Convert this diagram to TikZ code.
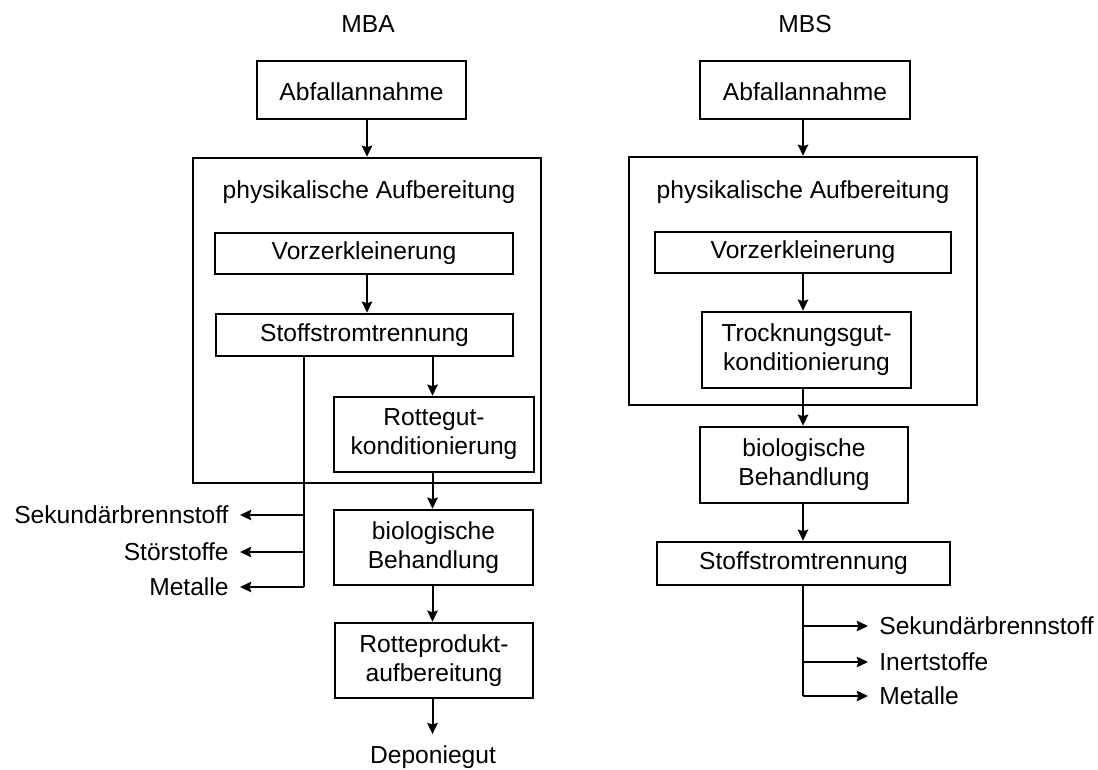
\documentclass[tikz,border=0pt]{standalone}
\usepackage{fontspec}
\setmainfont{Liberation Sans}
\usetikzlibrary{arrows.meta}
\begin{document}
\begin{tikzpicture}[x=0.5pt,y=-0.5pt,
  font=\fontsize{12.3pt}{14.5pt}\selectfont,
  pbox/.style n args={2}{draw, line width=1.2pt, inner sep=0pt, align=center,
    minimum width=#1*0.5pt, minimum height=#2*0.5pt},
  lowtext/.style={text height=1.05em, text depth=0pt},
  txt/.style={inner sep=0pt},
  outl/.style={inner xsep=5.5pt, inner ysep=0pt},
  flow/.style={line width=1pt},
  arr/.style={flow, -{Stealth[length=5.6pt, width=5.2pt, inset=0.8pt]}}]
\useasboundingbox[fill=white] (0,0) rectangle (1098,770);

% ---------- MBA ----------
\node[txt] (tA) at (368,24) {MBA};
\node[pbox={209}{58}, lowtext] (inA) at (361.5,90) {Abfallannahme};
\node[pbox={348}{325}] (bigA) at (367,320.5) {};
\node[txt] (physA) at (369,192) {physikalische Aufbereitung};
\node[pbox={298}{41}] (vzA) at (364,253.5) {Vorzerkleinerung};
\node[pbox={297}{42}] (stA) at (364.5,335) {Stoffstromtrennung};
\node[pbox={200}{75}] (rgA) at (434,434.5) {Rottegut-\\konditionierung};
\node[pbox={199}{75}] (bioA) at (433.5,547.5) {biologische\\Behandlung};
\node[pbox={198}{75}] (rpA) at (434,660.5) {Rotteprodukt-\\aufbereitung};
\node[txt, inner ysep=5.5pt] (depA) at (433,757) {Deponiegut};

\node[outl, anchor=east] (sekA) at (240,515) {Sekundärbrennstoff};
\node[outl, anchor=east] (stoA) at (240,552) {Störstoffe};
\node[outl, anchor=east] (metA) at (240,587) {Metalle};

\coordinate (a1) at (367,0);
\coordinate (a2) at (432.5,0);
\coordinate (spA) at (304,0);

\draw[arr] (inA.south -| a1) -- (bigA.north -| a1);
\draw[arr] (vzA.south -| a1) -- (stA.north -| a1);
\draw[arr] (stA.south -| a2) -- (rgA.north -| a2);
\draw[arr] (rgA.south -| a2) -- (bioA.north -| a2);
\draw[arr] (bioA.south -| a2) -- (rpA.north -| a2);
\draw[arr] (rpA.south -| a2) -- (depA.north -| a2);

\draw[flow] (stA.south -| spA) -- (metA.east -| spA);
\draw[arr] (sekA.east -| spA) -- (sekA.east);
\draw[arr] (stoA.east -| spA) -- (stoA.east);
\draw[arr] (metA.east -| spA) -- (metA.east);

% ---------- MBS ----------
\node[txt] (tS) at (805,24) {MBS};
\node[pbox={210}{58}, lowtext] (inS) at (805,90) {Abfallannahme};
\node[pbox={348}{248}] (bigS) at (803,281) {};
\node[txt] (physS) at (803,192) {physikalische Aufbereitung};
\node[pbox={296}{41}] (vzS) at (803,252.5) {Vorzerkleinerung};
\node[pbox={209}{76}] (tkS) at (806.5,350) {Trocknungsgut-\\konditionierung};
\node[pbox={208}{76}] (bioS) at (804,465) {biologische\\Behandlung};
\node[pbox={293}{43}] (stS) at (803.5,563.5) {Stoffstromtrennung};

\node[outl, anchor=west] (sekS) at (868,626) {Sekundärbrennstoff};
\node[outl, anchor=west] (inertS) at (868,662) {Inertstoffe};
\node[outl, anchor=west] (metS) at (868,696) {Metalle};

\coordinate (s1) at (803,0);

\draw[arr] (inS.south -| s1) -- (bigS.north -| s1);
\draw[arr] (vzS.south -| s1) -- (tkS.north -| s1);
\draw[arr] (tkS.south -| s1) -- (bioS.north -| s1);
\draw[arr] (bioS.south -| s1) -- (stS.north -| s1);

\draw[flow] (stS.south -| s1) -- (metS.west -| s1);
\draw[arr] (sekS.west -| s1) -- (sekS.west);
\draw[arr] (inertS.west -| s1) -- (inertS.west);
\draw[arr] (metS.west -| s1) -- (metS.west);
\end{tikzpicture}
\end{document}
